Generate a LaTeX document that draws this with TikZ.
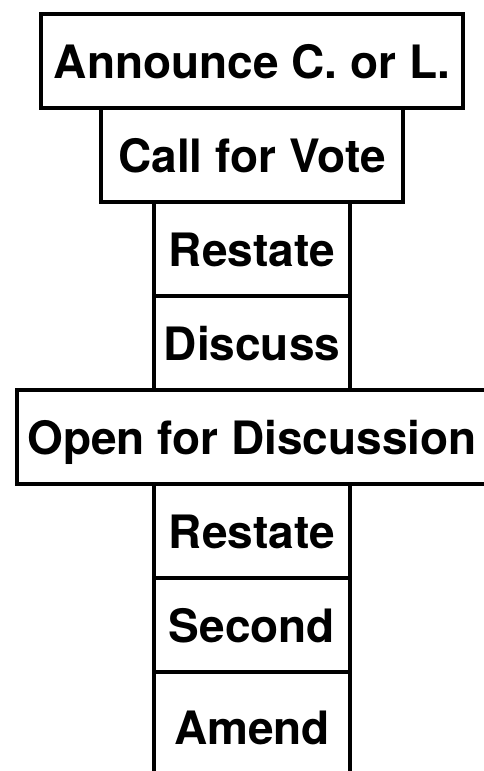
\documentclass[tikz,border=0pt]{standalone}
\usepackage{fontspec}
\setmainfont{TeX Gyre Heros}
\usetikzlibrary{positioning}
\tikzset{
  stepbox/.style={draw=black,line width=4.5pt,fill=white,minimum height=94pt,inner sep=0pt,outer sep=0pt,text height=34pt,text depth=0pt,font=\fontsize{46}{46}\selectfont\bfseries},
  narrowbox/.style={stepbox,minimum width=196pt}
}
\begin{document}
\begin{tikzpicture}[x=1pt,y=1pt,node distance=0pt]
  \fill[white] (0,0) rectangle (483,-771);
  \useasboundingbox (0,0) rectangle (483,-771);
  \node[stepbox,minimum width=422pt] (announce) at (252,-61) {Announce C. or L.};
  \node[stepbox,minimum width=302pt,below=of announce] (vote) {Call for Vote};
  \node[narrowbox,below=of vote] (restateA) {Restate};
  \node[narrowbox,below=of restateA] (discuss) {Discuss};
  \node[stepbox,minimum width=470pt,below=of discuss] (open) {Open for Discussion};
  \node[narrowbox,below=of open] (restateB) {Restate};
  \node[narrowbox,below=of restateB] (second) {Second};
  % bottom edge runs off the page
  \node[narrowbox,minimum height=110pt,below=of second] (amend) {Amend};
\end{tikzpicture}
\end{document}
